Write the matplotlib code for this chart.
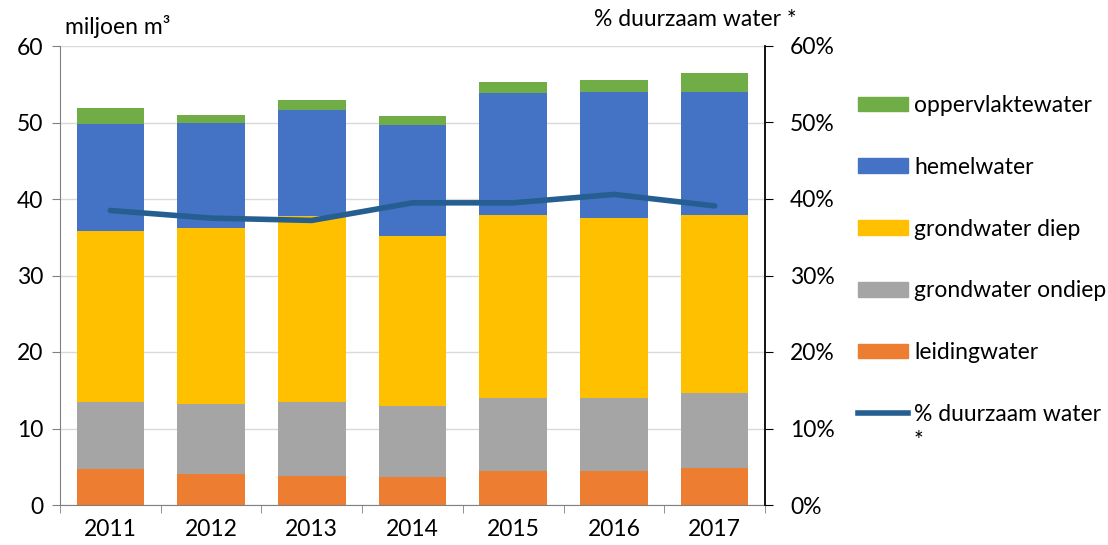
import matplotlib
matplotlib.use("Agg")
import matplotlib.pyplot as plt
import numpy as np
from matplotlib.patches import Patch
from matplotlib.lines import Line2D

years = ["2011", "2012", "2013", "2014", "2015", "2016", "2017"]
leidingwater = [4.7, 4.05, 3.8, 3.7, 4.4, 4.4, 4.8]
grondwater_ondiep = [8.8, 9.15, 9.7, 9.2, 9.6, 9.6, 9.8]
grondwater_diep = [22.3, 23.0, 24.3, 22.3, 23.9, 23.5, 23.3]
hemelwater = [14.0, 13.7, 13.8, 14.5, 16.0, 16.5, 16.1]
oppervlaktewater = [2.1, 1.1, 1.3, 1.2, 1.4, 1.6, 2.5]
duurzaam_pct = [38.5, 37.5, 37.2, 39.5, 39.5, 40.6, 39.1]

series = [
    ("leidingwater", leidingwater, "#ED7D31"),
    ("grondwater ondiep", grondwater_ondiep, "#A5A5A5"),
    ("grondwater diep", grondwater_diep, "#FFC000"),
    ("hemelwater", hemelwater, "#4472C4"),
    ("oppervlaktewater", oppervlaktewater, "#70AD47"),
]
line_color = "#255E91"
FS = 16.5

plt.rcParams['font.family'] = ['Lato', 'DejaVu Sans']

fig = plt.figure(figsize=(11.08, 5.45), dpi=100)
ax = fig.add_axes([60/1108, 40/545, (765-60)/1108, (505-46)/545])
x = np.arange(len(years))
bottom = np.zeros(len(years))
for name, vals, col in series:
    ax.bar(x, vals, bottom=bottom, width=0.67, color=col, zorder=2)
    bottom += np.array(vals)

ax.set_xlim(-0.5, len(years) - 0.5)
ax.set_ylim(0, 60)
ax.set_yticks(range(0, 61, 10))
ax.yaxis.grid(True, color="#D9D9D9", linewidth=1, zorder=0)
ax.set_axisbelow(True)
ax.set_xticks(x)
ax.set_xticklabels(years, fontsize=FS)
ax.set_xticks(np.arange(-0.5, len(years), 1), minor=True)
ax.tick_params(axis='x', which='major', length=0, pad=10)
ax.tick_params(axis='x', which='minor', length=6, color="#808080", direction='out')
ax.tick_params(axis='y', labelsize=FS, length=6, color="#808080", pad=6)
for s in ["top", "right"]:
    ax.spines[s].set_visible(False)
ax.spines["left"].set_color("#808080")
ax.spines["bottom"].set_color("#808080")

ax2 = ax.twinx()
ax2.plot(x, duurzaam_pct, color=line_color, linewidth=4, solid_capstyle='round', zorder=5)
ax2.set_ylim(0, 60)
ax2.set_yticks(range(0, 61, 10))
ax2.set_yticklabels([f"{v}%" for v in range(0, 61, 10)])
ax2.tick_params(axis='y', labelsize=FS, length=6, color="black", pad=12)
for s in ["top", "left", "bottom"]:
    ax2.spines[s].set_visible(False)
ax2.spines["right"].set_color("black")
ax2.spines["right"].set_linewidth(1.3)

fig.text(65/1108, 1 - 26/545, "miljoen m³", fontsize=FS, ha='left', va='center')
fig.text(797/1108, 1 - 20/545, "% duurzaam water *", fontsize=FS, ha='right', va='center')

handles = [Patch(color=c) for _, _, c in reversed(series)]
labels = [n for n, _, _ in reversed(series)]
handles.append(Line2D([0], [0], color=line_color, linewidth=4))
labels.append("% duurzaam water")
leg = fig.legend(handles, labels, loc='upper left', bbox_to_anchor=(858/1108, 1 - 95/545),
                 frameon=False, fontsize=FS, labelspacing=1.78, handlelength=2.2,
                 handleheight=0.6, handletextpad=0.25, borderaxespad=0, borderpad=0)
fig.text(914/1108, 1 - 440/545, "*", fontsize=FS, ha='left', va='center')

fig.savefig("out.png", dpi=100)
